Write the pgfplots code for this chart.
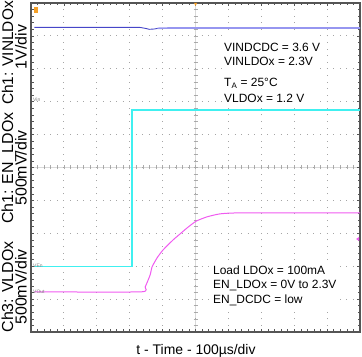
\documentclass[border=0pt]{standalone}
\usepackage{fontspec}
\setmainfont{Liberation Sans}
\usepackage{pgfplots}
\pgfplotsset{compat=1.18}
\definecolor{chonedark}{RGB}{70,70,200}
\definecolor{chonelight}{RGB}{150,150,240}
\definecolor{cyanT}{RGB}{64,240,240}
\definecolor{magT}{RGB}{240,90,240}
\definecolor{gridc}{RGB}{165,165,165}
\definecolor{framec}{RGB}{85,85,85}
\definecolor{orangeT}{RGB}{245,160,40}
\begin{document}
\begin{tikzpicture}
% center crosshair (drawn first)
\draw[gray!30, line width=0.6bp] (164.5bp,0) -- (164.5bp,329bp);
\draw[gray!30, line width=0.6bp] (0,164.5bp) -- (329bp,164.5bp);
\foreach \i in {1,...,49} {
  \draw[gray!65, line width=0.5bp] (162.5bp,\i*6.58bp) -- (166.5bp,\i*6.58bp);
  \draw[gray!65, line width=0.5bp] (\i*6.58bp,162.5bp) -- (\i*6.58bp,166.5bp);
}
\begin{axis}[
  at={(0,0)}, anchor=south west,
  scale only axis, width=329bp, height=329bp,
  xmin=0, xmax=10, ymin=0, ymax=10,
  xtick={0,...,10}, ytick={0,...,10},
  minor x tick num=4, minor y tick num=4,
  xticklabels={}, yticklabels={},
  tick align=inside,
  major tick length=3bp, minor tick length=2.5bp,
  tick style={framec, line width=0.5bp},
  xmajorgrids, ymajorgrids,
  major grid style={gridc, line width=0.9bp, dash pattern=on 0.9bp off 5.68bp, dash phase=0.45bp},
  axis line style={framec, line width=1.4bp},
  clip=false,
]
\addplot[chonedark, line width=0.9bp] coordinates {
(0.1,9.26) (3.3,9.26) (3.47,9.23) (3.6,9.20) (3.75,9.21) (3.85,9.23)};
\addplot[chonelight, line width=1.6bp] coordinates {
(3.85,9.23) (4.2,9.24) (10,9.24)};
\addplot[cyanT, line width=1.3bp] coordinates {
(0.1,1.99) (3.07,1.99) (3.07,6.75) (10,6.75)};
\addplot[magT, line width=1bp, smooth, tension=0.3] coordinates {
(0.1,1.22) (3.34,1.22) (3.47,1.37) (3.62,1.73) (3.68,1.98) (3.83,2.25) (4.01,2.49) (4.32,2.80) (4.53,2.98) (4.74,3.16) (5.02,3.37) (5.35,3.50) (5.74,3.59) (6.35,3.62) (10,3.62)};
\end{axis}
% channel tags
\node[anchor=west, inner sep=0, font=\fontsize{5}{6}\selectfont, text=gray] at (2bp,232bp) {Vin};
\node[anchor=west, inner sep=0, font=\fontsize{5}{6}\selectfont, text=gray] at (2bp,66bp) {VEn};
\node[anchor=west, inner sep=0, font=\fontsize{5}{6}\selectfont, text=gray] at (2bp,40bp) {VOut};
\fill[orangeT] (2.5bp,319bp) rectangle (6.5bp,325bp);
\fill[orangeT] (163bp,329bp) -- (166bp,329bp) -- (164.5bp,326bp) -- cycle;
\fill[magT] (325bp,93bp) -- (328bp,95bp) -- (328bp,91bp) -- cycle;
% annotation boxes
\fill[white] (191bp,227bp) rectangle (284bp,297bp);
\fill[white] (179bp,22bp) rectangle (309bp,70bp);
\begin{scope}[every node/.style={anchor=base west, inner sep=0, font=\fontsize{12}{14}\selectfont}]
\node at (193bp,280bp) {VINDCDC = 3.6 V};
\node at (193bp,266bp) {VINLDOx = 2.3V};
\node at (193bp,245bp) {T\textsubscript{A} = 25°C};
\node at (193bp,229bp) {VLDOx = 1.2 V};
\node at (182bp,57bp) {Load LDOx = 100mA};
\node at (182bp,43bp) {EN\_LDOx = 0V to 2.3V};
\node at (182bp,29bp) {EN\_DCDC = low};
\end{scope}
% axis labels
\node[anchor=base, inner sep=0, font=\fontsize{14}{16}\selectfont] at (165bp,-22.5bp) {t - Time - 100µs/div};
\begin{scope}[every node/.style={rotate=90, anchor=base, inner sep=0, font=\fontsize{16}{18}\selectfont}]
\node[font=\fontsize{15.5}{18}\selectfont] at (-18bp,279bp) {Ch1: VINLDOx};
\node at (-4.5bp,285bp) {1V/div};
\node at (-18bp,164bp) {Ch1: EN\_LDOx};
\node at (-4.5bp,164bp) {500mV/div};
\node at (-18bp,45bp) {Ch3: VLDOx};
\node at (-4.5bp,45bp) {500mV/div};
\end{scope}
\pgfresetboundingbox
\path[use as bounding box] (-31bp,-25bp) rectangle (331bp,332bp);
\end{tikzpicture}
\end{document}
